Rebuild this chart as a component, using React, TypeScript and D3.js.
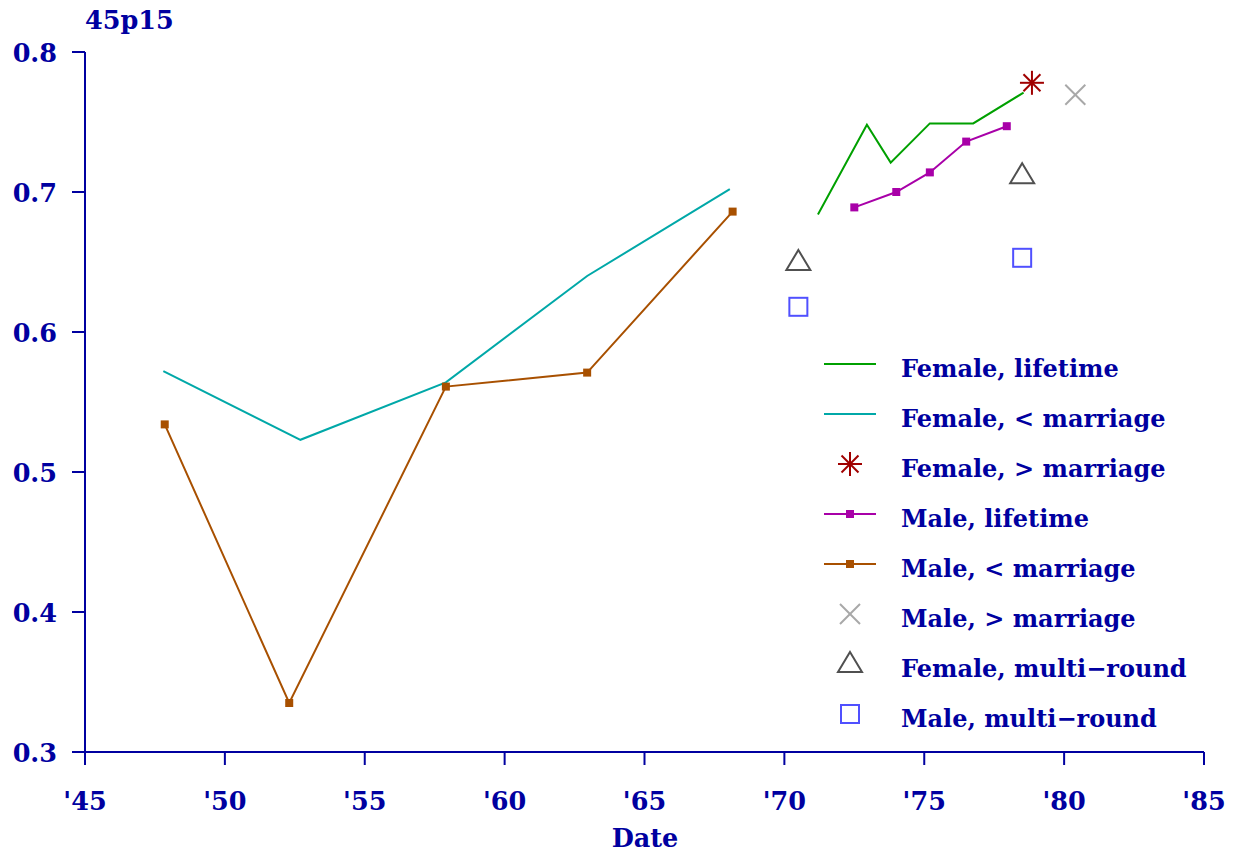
import React from "react";
import * as d3 from "d3";

// values
const femLifeYears = [1971.2, 1972.95, 1973.8, 1975.2, 1976.75, 1978.55];
const femLifeVals = [0.684, 0.748, 0.721, 0.749, 0.749, 0.771];
const femBeforeYears = [1947.8, 1952.7, 1957.9, 1962.95, 1968.05];
const femBeforeVals = [0.572, 0.523, 0.564, 0.64, 0.702];
const femAfterYears = [1978.85];
const femAfterVals = [0.778];
const maleLifeYears = [1972.5, 1974.0, 1975.2, 1976.5, 1977.95];
const maleLifeVals = [0.689, 0.7, 0.714, 0.736, 0.747];
const maleBeforeYears = [1947.85, 1952.3, 1957.9, 1962.95, 1968.15];
const maleBeforeVals = [0.534, 0.335, 0.561, 0.571, 0.686];
const maleAfterYears = [1980.4];
const maleAfterVals = [0.7695];
const femMultiYears = [1970.5, 1978.5];
const femMultiVals = [0.65, 0.712];
const maleMultiYears = [1970.5, 1978.5];
const maleMultiVals = [0.618, 0.653];

const xTicks = [1945, 1950, 1955, 1960, 1965, 1970, 1975, 1980, 1985];
const yTicks = [0.3, 0.4, 0.5, 0.6, 0.7, 0.8];
const legendLabels = [
  "Female, lifetime",
  "Female, < marriage",
  "Female, > marriage",
  "Male, lifetime",
  "Male, < marriage",
  "Male, > marriage",
  "Female, multi\u2212round",
  "Male, multi\u2212round",
];

const navy = "#0000a0";
const font = "'DejaVu Serif', serif";

const W = 1233;
const H = 852;

const x = d3.scaleLinear().domain([1945, 1985]).range([85, 1204]);
const y = d3.scaleLinear().domain([0.3, 0.8]).range([752, 52]);

const pts = (xs: number[], ys: number[]) => xs.map((d, i) => [d, ys[i]] as [number, number]);
const line = d3
  .line<[number, number]>()
  .x((d) => x(d[0]))
  .y((d) => y(d[1]));

function Square({ cx, cy, color, s = 8 }: any) {
  return <rect x={cx - s / 2} y={cy - s / 2} width={s} height={s} fill={color} />;
}

function Star({ cx, cy }: any) {
  const r = 12;
  const col = "#a00000";
  return (
    <g stroke={col} strokeWidth={2}>
      {[0, 45, 90, 135].map((a) => {
        const rad = (a * Math.PI) / 180;
        return (
          <line
            key={a}
            x1={cx - r * Math.cos(rad)}
            y1={cy - r * Math.sin(rad)}
            x2={cx + r * Math.cos(rad)}
            y2={cy + r * Math.sin(rad)}
          />
        );
      })}
    </g>
  );
}

function Cross({ cx, cy }: any) {
  const r = 10;
  return (
    <g stroke="#a8a8a8" strokeWidth={2}>
      <line x1={cx - r} y1={cy - r} x2={cx + r} y2={cy + r} />
      <line x1={cx - r} y1={cy + r} x2={cx + r} y2={cy - r} />
    </g>
  );
}

function Tri({ cx, cy }: any) {
  const r = 12;
  return (
    <path
      d={`M${cx},${cy - r}L${cx + r},${cy + 8}L${cx - r},${cy + 8}Z`}
      fill="none"
      stroke="#505050"
      strokeWidth={2}
    />
  );
}

function Box({ cx, cy }: any) {
  const s = 18;
  return (
    <rect x={cx - s / 2} y={cy - s / 2} width={s} height={s} fill="none" stroke="#5050ff" strokeWidth={2} />
  );
}

function Series({ data, color, marker }: any) {
  return (
    <g>
      <path d={line(data) || ""} fill="none" stroke={color} strokeWidth={2} />
      {marker &&
        data.map((d: [number, number], i: number) => (
          <Square key={i} cx={x(d[0])} cy={y(d[1])} color={color} />
        ))}
    </g>
  );
}

export default function App() {
  const legendY = (i: number) => 364 + i * 50;
  const lx1 = 824;
  const lx2 = 876;
  const lmx = 850;
  return (
    <svg width={W} height={H} style={{ position: "absolute", left: 0, top: 0, background: "#fff" }}>
      {/* axes */}
      <g stroke={navy} strokeWidth={2}>
        <line x1={85} y1={y(0.8)} x2={85} y2={752} />
        <line x1={85} y1={752} x2={1204} y2={752} />
        {yTicks.map((t) => (
          <line key={t} x1={72} y1={y(t)} x2={85} y2={y(t)} />
        ))}
        {xTicks.map((t) => (
          <line key={t} x1={x(t)} y1={752} x2={x(t)} y2={765} />
        ))}
      </g>
      <g fill={navy} fontFamily={font} fontWeight="bold" fontSize={25.5}>
        {yTicks.map((t) => (
          <text key={t} x={57} y={y(t) + 9.5} textAnchor="end">
            {t.toFixed(1)}
          </text>
        ))}
        {xTicks.map((t) => (
          <text key={t} x={x(t)} y={810} textAnchor="middle">
            {"'" + String(t).slice(2)}
          </text>
        ))}
        <text x={645} y={847} textAnchor="middle">
          Date
        </text>
        <text x={85} y={29}>
          45p15
        </text>
      </g>

      {/* data */}
      <Series data={pts(femBeforeYears, femBeforeVals)} color="#00a8a8" />
      <Series data={pts(maleBeforeYears, maleBeforeVals)} color="#a85000" marker />
      <Series data={pts(femLifeYears, femLifeVals)} color="#00a000" />
      <Series data={pts(maleLifeYears, maleLifeVals)} color="#a800a8" marker />
      {pts(femAfterYears, femAfterVals).map((d, i) => (
        <Star key={i} cx={x(d[0])} cy={y(d[1])} />
      ))}
      {pts(maleAfterYears, maleAfterVals).map((d, i) => (
        <Cross key={i} cx={x(d[0])} cy={y(d[1])} />
      ))}
      {pts(femMultiYears, femMultiVals).map((d, i) => (
        <Tri key={i} cx={x(d[0])} cy={y(d[1])} />
      ))}
      {pts(maleMultiYears, maleMultiVals).map((d, i) => (
        <Box key={i} cx={x(d[0])} cy={y(d[1])} />
      ))}

      {/* legend */}
      <g>
        <line x1={lx1} x2={lx2} y1={legendY(0)} y2={legendY(0)} stroke="#00a000" strokeWidth={2} />
        <line x1={lx1} x2={lx2} y1={legendY(1)} y2={legendY(1)} stroke="#00a8a8" strokeWidth={2} />
        <Star cx={lmx} cy={legendY(2)} />
        <line x1={lx1} x2={lx2} y1={legendY(3)} y2={legendY(3)} stroke="#a800a8" strokeWidth={2} />
        <Square cx={lmx} cy={legendY(3)} color="#a800a8" />
        <line x1={lx1} x2={lx2} y1={legendY(4)} y2={legendY(4)} stroke="#a85000" strokeWidth={2} />
        <Square cx={lmx} cy={legendY(4)} color="#a85000" />
        <Cross cx={lmx} cy={legendY(5)} />
        <Tri cx={lmx} cy={legendY(6)} />
        <Box cx={lmx} cy={legendY(7)} />
        <g fill={navy} fontFamily={font} fontWeight="bold" fontSize={24}>
          {legendLabels.map((l, i) => (
            <text key={l} x={901} y={legendY(i) + 13}>
              {l}
            </text>
          ))}
        </g>
      </g>
    </svg>
  );
}
